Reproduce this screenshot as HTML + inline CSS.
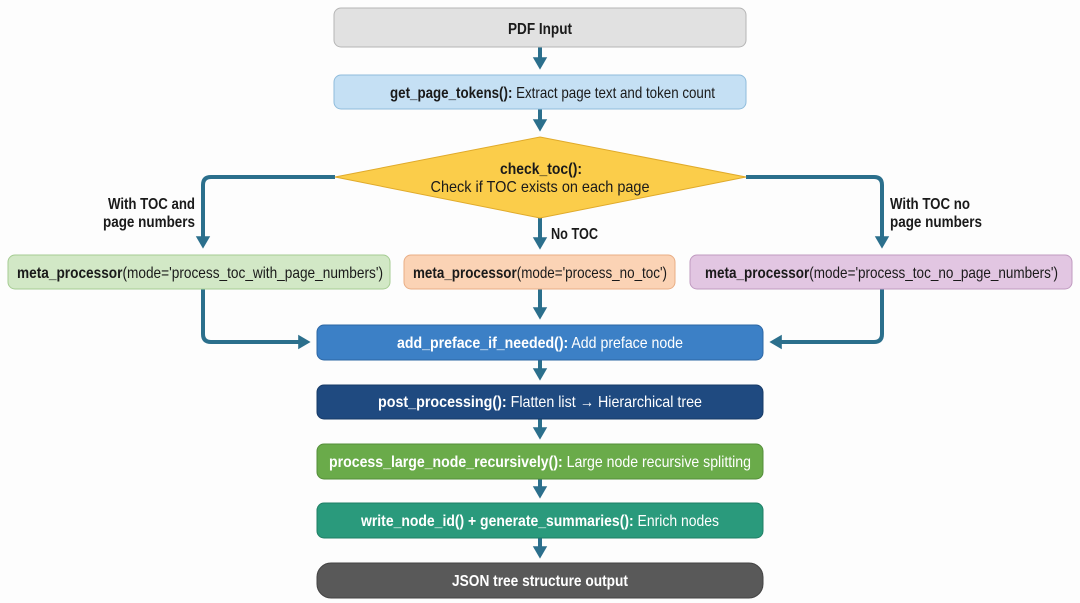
<!DOCTYPE html>
<html><head><meta charset="utf-8"><style>
html,body{margin:0;padding:0;background:#fdfdfd;}
svg{display:block;}
text{font-family:"Liberation Sans Narrow","Liberation Sans",sans-serif;font-size:16px;}
.b{font-weight:bold;}
</style></head><body>
<svg width="1080" height="603" viewBox="0 0 1080 603" xmlns="http://www.w3.org/2000/svg">
<defs>
<marker id="a" markerWidth="4" markerHeight="4" refX="2.2" refY="2" orient="auto" markerUnits="strokeWidth">
<path d="M0,0.2 L3.1,2 L0,3.8 Z" fill="#2b6f8c"/>
</marker>
</defs>
<g stroke="#2b6f8c" stroke-width="4" fill="none" marker-end="url(#a)">
<path d="M540 47 V66"/>
<path d="M540 109 V128"/>
<path d="M335 177 H211 Q203 177 203 185 V245"/>
<path d="M746 177 H874 Q882 177 882 185 V245"/>
<path d="M540 218 V246"/>
<path d="M203 289 V334 Q203 342 211 342 H307"/>
<path d="M882 289 V334 Q882 342 874 342 H773"/>
<path d="M540 289 V316"/>
<path d="M540 360 V377"/>
<path d="M540 419 V436"/>
<path d="M540 479 V495"/>
<path d="M540 538 V555"/>
</g>
<rect x="334" y="8" width="412" height="39" rx="7" fill="#e1e1e1" stroke="#b5b5b5"/>
<rect x="334" y="75" width="412" height="34" rx="7" fill="#c5e0f4" stroke="#8fbcdc"/>
<polygon points="540,137 746,177 540,218 335,177" fill="#fbcd4a" stroke="#e0aa2a"/>
<rect x="8" y="255" width="382" height="34" rx="7" fill="#d2e8c6" stroke="#a5cc92"/>
<rect x="404" y="255" width="271" height="34" rx="7" fill="#fbd3b5" stroke="#e9ae85"/>
<rect x="690" y="255" width="382" height="34" rx="7" fill="#e2c6e2" stroke="#c09ac0"/>
<rect x="317" y="325" width="446" height="35" rx="7" fill="#3c80c6" stroke="#2c66a4"/>
<rect x="317" y="385" width="446" height="34" rx="7" fill="#1f4a80" stroke="#163a66"/>
<rect x="317" y="444" width="446" height="35" rx="7" fill="#6aab4a" stroke="#548e39"/>
<rect x="317" y="503" width="446" height="35" rx="7" fill="#2a9a7c" stroke="#1f7f65"/>
<rect x="317" y="563" width="446" height="35" rx="14" fill="#595959" stroke="#444"/>
<g fill="#1a1a1a">
<text x="540" y="34" text-anchor="middle" class="b" textLength="64" lengthAdjust="spacingAndGlyphs">PDF Input</text>
<text x="390" y="98" textLength="325" lengthAdjust="spacingAndGlyphs"><tspan class="b">get_page_tokens():</tspan> Extract page text and token count</text>
<text x="541" y="174" text-anchor="middle" class="b" textLength="82" lengthAdjust="spacingAndGlyphs">check_toc():</text>
<text x="540" y="192" text-anchor="middle" textLength="219" lengthAdjust="spacingAndGlyphs">Check if TOC exists on each page</text>
<text x="195" y="209" text-anchor="end" class="b" textLength="87" lengthAdjust="spacingAndGlyphs">With TOC and</text>
<text x="195" y="227" text-anchor="end" class="b" textLength="92" lengthAdjust="spacingAndGlyphs">page numbers</text>
<text x="551" y="239" class="b" textLength="47" lengthAdjust="spacingAndGlyphs">No TOC</text>
<text x="890" y="209" class="b" textLength="80" lengthAdjust="spacingAndGlyphs">With TOC no</text>
<text x="890" y="227" class="b" textLength="92" lengthAdjust="spacingAndGlyphs">page numbers</text>
<text x="17" y="278" textLength="366" lengthAdjust="spacingAndGlyphs"><tspan class="b">meta_processor</tspan>(mode='process_toc_with_page_numbers')</text>
<text x="413" y="278" textLength="254" lengthAdjust="spacingAndGlyphs"><tspan class="b">meta_processor</tspan>(mode='process_no_toc')</text>
<text x="705" y="278" textLength="353" lengthAdjust="spacingAndGlyphs"><tspan class="b">meta_processor</tspan>(mode='process_toc_no_page_numbers')</text>
</g>
<g fill="#ffffff">
<text x="397" y="348" textLength="286" lengthAdjust="spacingAndGlyphs"><tspan class="b">add_preface_if_needed():</tspan> Add preface node</text>
<text x="378" y="407" textLength="324" lengthAdjust="spacingAndGlyphs"><tspan class="b">post_processing():</tspan> Flatten list → Hierarchical tree</text>
<text x="329" y="467" textLength="422" lengthAdjust="spacingAndGlyphs"><tspan class="b">process_large_node_recursively():</tspan> Large node recursive splitting</text>
<text x="361" y="526" textLength="358" lengthAdjust="spacingAndGlyphs"><tspan class="b">write_node_id() + generate_summaries():</tspan> Enrich nodes</text>
<text x="540" y="586" text-anchor="middle" class="b" textLength="176" lengthAdjust="spacingAndGlyphs">JSON tree structure output</text>
</g>
</svg>
</body></html>
